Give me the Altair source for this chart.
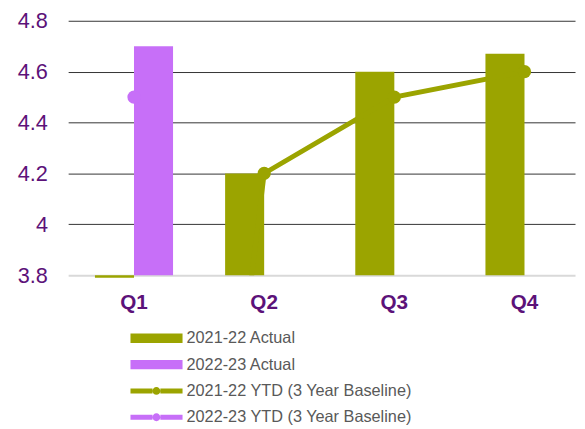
import altair as alt
import pandas as pd

quarters = ["Q1", "Q2", "Q3", "Q4"]
series = [
    "2021-22 Actual",
    "2022-23 Actual",
    "2021-22 YTD (3 Year Baseline)",
    "2022-23 YTD (3 Year Baseline)",
]
actual_2122 = [3.79, 4.2, 4.6, 4.67]
actual_2223 = [4.7, None, None, None]
ytd_2122 = [0.0, 4.2, 4.5, 4.6]
ytd_2223 = [4.5, None, None, None]
y_ticks = [3.8, 4.0, 4.2, 4.4, 4.6, 4.8]

GREEN = "#9ba400"
PURPLE = "#c76ff8"
TEXT_PURPLE = "#5c1279"

bar_rows = []
for q, a, b in zip(quarters, actual_2122, actual_2223):
    if a is not None:
        bar_rows.append({"quarter": q, "series": series[0], "value": a})
    if b is not None:
        bar_rows.append({"quarter": q, "series": series[1], "value": b})
bars_df = pd.DataFrame(bar_rows)

line_rows = []
for q, a, b in zip(quarters, ytd_2122, ytd_2223):
    if a is not None:
        line_rows.append({"quarter": q, "series": series[2], "value": a})
    if b is not None:
        line_rows.append({"quarter": q, "series": series[3], "value": b})
lines_df = pd.DataFrame(line_rows)

legend_df = pd.DataFrame({"quarter": ["Q1"] * 4, "series": series, "value": [None] * 4})

bar_path = "M-1,-0.18L1,-0.18L1,0.18L-1,0.18Z"
line_path = ("M-1,-0.095L-0.15,-0.095L-0.15,0.095L-1,0.095Z "
             "M0.15,-0.095L1,-0.095L1,0.095L0.15,0.095Z "
             "M-0.15,0A0.15,0.15 0 1,0 0.15,0A0.15,0.15 0 1,0 -0.15,0Z")

x_scale = alt.Scale(type="band", domain=quarters, paddingInner=0.4,
                    paddingOuter=0.147, align=0.7)
y_scale = alt.Scale(domain=[3.8, 4.8], nice=False, zero=False)

color = alt.Color(
    "series:N",
    scale=alt.Scale(domain=series, range=[GREEN, PURPLE, GREEN, PURPLE]),
    legend=alt.Legend(
        title=None, orient="none", legendX=63, legendY=312, direction="vertical",
        clipHeight=20, rowPadding=6.7, symbolSize=2809, symbolStrokeWidth=0,
        labelFont="Liberation Sans", labelFontSize=16.5, labelColor="#595959",
        labelOffset=4, padding=0, labelLimit=0,
    ),
)

x_enc = alt.X(
    "quarter:N", scale=x_scale,
    axis=alt.Axis(title=None, ticks=False, domain=False, labelAngle=0,
                  labelFont="Liberation Sans", labelFontSize=21, labelFontWeight="bold",
                  labelColor=TEXT_PURPLE, labelPadding=17),
)
y_enc = alt.Y(
    "value:Q", scale=y_scale,
    axis=alt.Axis(title=None, values=y_ticks, format="~g", domain=False, ticks=False,
                  labelFont="Liberation Sans", labelFontSize=22, labelColor=TEXT_PURPLE,
                  labelPadding=21,
                  gridColor={"condition": {"test": "datum.value < 3.81", "value": "#d9d9d9"},
                             "value": "#333333"},
                  gridWidth={"condition": {"test": "datum.value < 3.81", "value": 2},
                             "value": 1}),
)

bars = alt.Chart(bars_df).mark_bar(opacity=1).encode(
    x=x_enc,
    xOffset=alt.XOffset("series:N", scale=alt.Scale(domain=series[:2])),
    y=y_enc,
    y2=alt.datum(3.8),
    color=color,
)

lines = alt.Chart(lines_df).mark_line(strokeWidth=5, clip=True, opacity=1).encode(
    x=alt.X("quarter:N", scale=x_scale),
    y=alt.Y("value:Q", scale=y_scale),
    color=color,
    detail="series:N",
)

points = alt.Chart(lines_df).mark_point(filled=True, size=180, opacity=1, clip=True).encode(
    x=alt.X("quarter:N", scale=x_scale),
    y=alt.Y("value:Q", scale=y_scale),
    color=color,
)

legend_layer = alt.Chart(legend_df).mark_point(filled=True, opacity=1).encode(
    x=alt.X("quarter:N", scale=x_scale),
    y=alt.Y("value:Q", scale=y_scale),
    color=color,
    shape=alt.Shape("series:N",
                    scale=alt.Scale(domain=series,
                                    range=[bar_path, bar_path, line_path, line_path])),
)

chart = alt.layer(bars, lines, points, legend_layer).properties(
    width=514, height=258,
    autosize=alt.AutoSizeParams(type="none"),
    padding={"left": 61, "top": 10, "right": 2, "bottom": 150},
).configure_view(stroke=None)

chart.save("out.html", embed_options={"renderer": "svg", "actions": False})
